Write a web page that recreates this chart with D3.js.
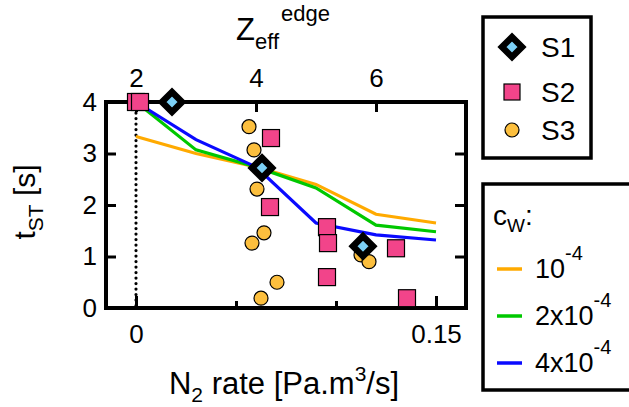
<!DOCTYPE html>
<html>
<head>
<meta charset="utf-8">
<script src="https://cdn.jsdelivr.net/npm/d3@7"></script>
<style>
  body { margin: 0; background: #fff; }
  text { font-family: "Liberation Sans", Arial, sans-serif; fill: #000; }
</style>
</head>
<body>
<script>
// ---- data ----
const rateGrid = [0, 0.03, 0.06, 0.09, 0.12, 0.15];
const cw1 = [3.33, 3.0, 2.74, 2.4, 1.82, 1.65];   // 10^-4
const cw2 = [4.0, 3.07, 2.74, 2.33, 1.61, 1.48];  // 2x10^-4
const cw4 = [4.0, 3.27, 2.74, 1.65, 1.42, 1.32];  // 4x10^-4

const s1Rate = [0.018, 0.063, 0.1135];
const s1T = [4.0, 2.72, 1.2];

const s2Rate = [0, 0.002, 0.0675, 0.067, 0.0955, 0.096, 0.0955, 0.13, 0.1355];
const s2T = [4.0, 4.0, 3.3, 1.96, 1.57, 1.26, 0.6, 1.16, 0.19];

const s3Rate = [0.0565, 0.059, 0.0605, 0.064, 0.058, 0.0705, 0.0625, 0.1125, 0.1165];
const s3T = [3.52, 3.07, 2.31, 1.46, 1.26, 0.5, 0.19, 1.03, 0.9];

const width = 629, height = 407;
const pLeft = 106, pRight = 466, pTop = 102, pBottom = 308;

const svg = d3.select("body").append("svg")
  .attr("width", width)
  .attr("height", height);

const x = d3.scaleLinear().domain([-0.015, 0.165]).range([pLeft, pRight]);
const xTop = d3.scaleLinear().domain([1.5, 7.5]).range([pLeft, pRight]);
const y = d3.scaleLinear().domain([0, 4]).range([pBottom, pTop]);

// ---- axes (ticks point inward) ----
function styleAxis(g) {
  g.select(".domain").remove();
  g.selectAll(".tick line").attr("stroke", "#000").attr("stroke-width", 3);
  g.selectAll(".tick text").style("font-family", "Liberation Sans, Arial, sans-serif")
    .style("font-size", "26px").attr("fill", "#000");
}

svg.append("g").attr("transform", `translate(0,${pBottom})`)
  .call(d3.axisBottom(x).tickValues([0.05, 0.1]).tickSize(-7).tickFormat(""))
  .call(styleAxis);
svg.append("g").attr("transform", `translate(0,${pBottom})`)
  .call(d3.axisBottom(x).tickValues([0, 0.15]).tickSize(-12).tickPadding(17)
    .tickFormat(d => d === 0 ? "0" : "0.15"))
  .call(styleAxis);

svg.append("g").attr("transform", `translate(0,${pTop})`)
  .call(d3.axisTop(xTop).tickValues([2, 4, 6]).tickSize(-10).tickPadding(15).tickFormat(d3.format("d")))
  .call(styleAxis);

svg.append("g").attr("transform", `translate(${pLeft},0)`)
  .call(d3.axisLeft(y).tickValues([0, 1, 2, 3, 4]).tickSize(-10).tickPadding(9).tickFormat(d3.format("d")))
  .call(styleAxis);
svg.append("g").attr("transform", `translate(${pRight},0)`)
  .call(d3.axisRight(y).tickValues([1, 2, 3]).tickSize(-11).tickFormat(""))
  .call(styleAxis);

// frame
svg.append("rect")
  .attr("x", pLeft).attr("y", pTop)
  .attr("width", pRight - pLeft).attr("height", pBottom - pTop)
  .attr("fill", "none").attr("stroke", "#000").attr("stroke-width", 4);

// dotted line at zero rate
svg.append("line")
  .attr("x1", x(0)).attr("x2", x(0)).attr("y1", y(4)).attr("y2", y(0))
  .attr("stroke", "#000").attr("stroke-width", 3.2)
  .attr("stroke-dasharray", "0.1,5.4").attr("stroke-linecap", "round");

// ---- model lines ----
const line = d3.line().x((d, i) => x(rateGrid[i])).y(d => y(d));
const series = [
  { vals: cw1, color: "#ffaa00" },
  { vals: cw2, color: "#00c800" },
  { vals: cw4, color: "#0a0aff" }
];
series.forEach(s => {
  svg.append("path").attr("d", line(s.vals))
    .attr("fill", "none").attr("stroke", s.color).attr("stroke-width", 3.2);
});

// ---- markers ----
const diamond = "M0,-10L10,0L0,10L-10,0Z";

svg.append("g").selectAll("circle").data(s3Rate).join("circle")
  .attr("cx", d => x(d)).attr("cy", (d, i) => y(s3T[i])).attr("r", 7)
  .attr("fill", "#fcbf3e").attr("stroke", "#000").attr("stroke-width", 1.2);

svg.append("g").selectAll("rect").data(s2Rate).join("rect")
  .attr("x", d => x(d) - 8.5).attr("y", (d, i) => y(s2T[i]) - 8.5)
  .attr("width", 17).attr("height", 17)
  .attr("fill", "#f2448a").attr("stroke", "#000").attr("stroke-width", 1.2);

svg.append("g").selectAll("path").data(s1Rate).join("path")
  .attr("d", diamond)
  .attr("transform", (d, i) => `translate(${x(d)},${y(s1T[i])})`)
  .attr("fill", "#7cd0f6").attr("stroke", "#000").attr("stroke-width", 6.5)
  .attr("stroke-linejoin", "miter");

// ---- axis titles ----
const xt = svg.append("text").attr("x", 284).attr("y", 394)
  .attr("text-anchor", "middle").style("font-size", "31px");
xt.append("tspan").text("N");
xt.append("tspan").text("2").style("font-size", "21px").attr("dy", 8);
xt.append("tspan").text(" rate [Pa.m").attr("dy", -8);
xt.append("tspan").text("3").style("font-size", "21px").attr("dy", -13);
xt.append("tspan").text("/s]").attr("dy", 13);

const yt = svg.append("text")
  .attr("transform", "translate(35,202) rotate(-90)")
  .attr("text-anchor", "middle").style("font-size", "30px");
yt.append("tspan").text("t");
yt.append("tspan").text("ST").style("font-size", "21px").attr("dy", 8);
yt.append("tspan").text(" [s]").attr("dy", -8);

const zt = svg.append("text").attr("x", 236).attr("y", 40).style("font-size", "31px");
zt.append("tspan").text("Z");
zt.append("tspan").text("eff").style("font-size", "22px").attr("dy", 9);
zt.append("tspan").text("edge").style("font-size", "22px").attr("dx", 2).attr("dy", -28);

// ---- legend 1: samples ----
const leg1 = svg.append("g");
leg1.append("rect").attr("x", 483).attr("y", 17).attr("width", 108).attr("height", 141)
  .attr("fill", "#fff").attr("stroke", "#000").attr("stroke-width", 3.5);
const legNames = ["S1", "S2", "S3"];
const legY = [47, 92, 130];
leg1.append("path").attr("d", diamond).attr("transform", `translate(512,${legY[0]})`)
  .attr("fill", "#7cd0f6").attr("stroke", "#000").attr("stroke-width", 6.5);
leg1.append("rect").attr("x", 504).attr("y", legY[1] - 8).attr("width", 16).attr("height", 16)
  .attr("fill", "#f2448a").attr("stroke", "#000").attr("stroke-width", 1.2);
leg1.append("circle").attr("cx", 512).attr("cy", legY[2]).attr("r", 7)
  .attr("fill", "#fcbf3e").attr("stroke", "#000").attr("stroke-width", 1.2);
leg1.selectAll("text.name").data(legNames).join("text").attr("class", "name")
  .attr("x", 541).attr("y", (d, i) => legY[i] + 10)
  .style("font-size", "28px").text(d => d);

// ---- legend 2: model c_W ----
const leg2 = svg.append("g");
leg2.append("rect").attr("x", 483).attr("y", 184).attr("width", 160).attr("height", 206)
  .attr("fill", "#fff").attr("stroke", "#000").attr("stroke-width", 3.5);
const cw = leg2.append("text").attr("x", 493).attr("y", 225).style("font-size", "28px");
cw.append("tspan").text("c");
cw.append("tspan").text("W").style("font-size", "19px").attr("dy", 7);
cw.append("tspan").text(":").attr("dy", -7);

const cwPre = ["", "2x", "4x"];
const cwY = [269, 316, 363];
series.forEach((s, i) => {
  leg2.append("line").attr("x1", 497).attr("x2", 522).attr("y1", cwY[i]).attr("y2", cwY[i])
    .attr("stroke", s.color).attr("stroke-width", 3.5);
  const t = leg2.append("text").attr("x", 535).attr("y", cwY[i] + 9).style("font-size", "27px");
  t.append("tspan").text(cwPre[i] + "10");
  t.append("tspan").text("-4").style("font-size", "20px").attr("dy", -18);
});
</script>
</body>
</html>
